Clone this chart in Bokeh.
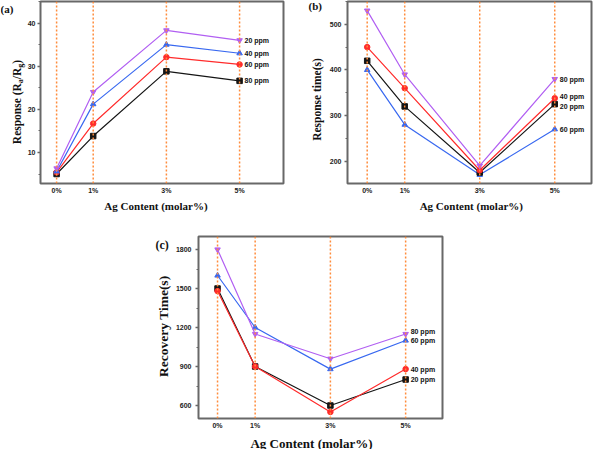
import math
from bokeh.plotting import figure
from bokeh.models import Range1d, FixedTicker, Label, Span, Spacer, GridBox
from bokeh.layouts import row, column
from bokeh.embed import file_html
from bokeh.resources import INLINE

# ---------------- data ----------------
ag = [0, 1, 3, 5]
ag_labels = ["0%", "1%", "3%", "5%"]

# (a) Response (Ra/Rg)
a_names = ["20 ppm", "40 ppm", "60 ppm", "80 ppm"]
a_20 = [6.3, 24.0, 38.3, 36.0]
a_40 = [5.6, 21.2, 35.0, 33.0]
a_60 = [5.4, 16.7, 32.1, 30.4]
a_80 = [5.0, 13.8, 28.8, 26.6]
a_ticks = [10, 20, 30, 40]

# (b) Response time (s)
b_names = ["80 ppm", "40 ppm", "20 ppm", "60 ppm"]
b_80 = [530, 390, 190, 380]
b_40 = [450, 360, 180, 338]
b_20 = [420, 320, 175, 325]
b_60 = [400, 280, 170, 270]
b_ticks = [200, 300, 400, 500]

# (c) Recovery time (s)
c_names = ["80 ppm", "60 ppm", "40 ppm", "20 ppm"]
c_80 = [1800, 1150, 960, 1150]
c_60 = [1600, 1200, 880, 1100]
c_40 = [1480, 900, 550, 880]
c_20 = [1500, 900, 600, 800]
c_ticks = [600, 900, 1200, 1500, 1800]

xtitle = "Ag Content (molar%)"
ytitle_b = "Response time(s)"
ytitle_c = "Recovery Time(s)"

# ---------------- style ----------------
GRAY = "#686868"
ORANGE = "#ff8c3c"
PURPLE = "#b15ff2"
BLUE = "#3868f0"
RED = "#ff2b2b"
BLACK = "#151515"
SERIF = "Liberation Serif"
SANS = "Liberation Sans"
W, H = 593, 449


def panel(width, height, bl, br, bt, bb, xr, yr, yticks, ystand):
    p = figure(width=width, height=height, x_range=Range1d(*xr), y_range=Range1d(*yr),
               output_backend="svg", toolbar_location=None,
               min_border_left=bl, min_border_right=br, min_border_top=bt, min_border_bottom=bb)
    p.grid.visible = False
    p.outline_line_color = GRAY
    p.outline_line_width = 2
    p.border_fill_color = "white"
    p.background_fill_color = "white"
    xa = p.xaxis[0]
    xa.ticker = FixedTicker(ticks=ag)
    xa.major_label_overrides = {v: s for v, s in zip(ag, ag_labels)}
    xa.axis_line_color = None
    xa.major_tick_line_color = None
    xa.minor_tick_line_color = None
    xa.major_tick_out = 0
    xa.major_tick_in = 0
    xa.minor_tick_out = 0
    xa.minor_tick_in = 0
    xa.major_label_standoff = 3
    ya = p.yaxis[0]
    step = yticks[1] - yticks[0]
    minors = [t - step / 2 for t in yticks] + [yticks[-1] + step / 2]
    ya.ticker = FixedTicker(ticks=yticks, minor_ticks=minors)
    ya.axis_line_color = None
    ya.major_tick_line_color = GRAY
    ya.major_tick_line_width = 1.5
    ya.major_tick_out = 3
    ya.major_tick_in = 0
    ya.minor_tick_line_color = GRAY
    ya.minor_tick_out = 2
    ya.minor_tick_in = 0
    ya.major_label_standoff = ystand
    for ax in (xa, ya):
        ax.major_label_text_font = SANS
        ax.major_label_text_font_style = "bold"
        ax.major_label_text_font_size = "7px"
        ax.major_label_text_color = "#222222"
    for v in ag:
        p.add_layout(Span(location=v, dimension="height", line_color=ORANGE,
                          line_dash="2 2", line_width=1.5))
    return p


def series(p, vals, color, marker, name, dy=0):
    p.line(ag, vals, line_color=color, line_width=1.2)
    p.scatter(ag, vals, marker=marker, size=5.5, fill_color=color, line_color=color)
    p.add_layout(Label(x=ag[-1], y=vals[-1], x_offset=5, y_offset=dy, text=name,
                       text_font=SANS, text_font_style="bold", text_font_size="7px",
                       text_baseline="middle", text_color="#111111"))


# ---------------- panel (a) ----------------
fa = panel(287, 221, 40, 4, 1, 38, (-0.44, 6.2), (2.8, 45.0), a_ticks, 2)
series(fa, a_80, BLACK, "square", a_names[3])
series(fa, a_60, RED, "circle", a_names[2])
series(fa, a_40, BLUE, "triangle", a_names[1])
series(fa, a_20, PURPLE, "inverted_triangle", a_names[0])

# ---------------- panel (b) ----------------
fb = panel(306, 221, 60, 2, 1, 38, (-0.525, 5.98), (151, 550), b_ticks, 3)
series(fb, b_60, BLUE, "triangle", b_names[3])
series(fb, b_20, BLACK, "square", b_names[2], dy=-2)
series(fb, b_40, RED, "circle", b_names[1], dy=2)
series(fb, b_80, PURPLE, "inverted_triangle", b_names[0])

# ---------------- panel (c) ----------------
fc = panel(312, 228, 58, 10, 15, 31, (-0.506, 5.98), (500, 1900), c_ticks, 4)
series(fc, c_20, BLACK, "square", c_names[3])
series(fc, c_40, RED, "circle", c_names[2])
series(fc, c_60, BLUE, "triangle", c_names[1])
series(fc, c_80, PURPLE, "inverted_triangle", c_names[0], dy=3)

panels = column(row(fa, fb), row(Spacer(width=140, height=228), fc))

# ---------------- transparent text layer (titles outside the frames) ----------------
t = figure(width=W, height=H, x_range=Range1d(0, W), y_range=Range1d(H, 0),
           output_backend="svg", toolbar_location=None, min_border=0,
           x_axis_type=None, y_axis_type=None)
t.grid.visible = False
t.outline_line_color = None
t.border_fill_color = None
t.background_fill_color = None


def txt(s, x, y, size, angle=0.0, align="center", baseline="middle"):
    t.add_layout(Label(x=x, y=y, text=s, angle=angle, text_font=SERIF,
                       text_font_style="bold", text_font_size=f"{size}px",
                       text_align=align, text_baseline=baseline, text_color="#111111"))


# panel tags
txt("(a)", 0, 8, 11, align="left")
txt("(b)", 308, 5.5, 11, align="left")
txt("(c)", 155, 244.3, 12, align="left")
# x titles
txt(xtitle, 155.5, 205.5, 11)
txt(xtitle, 470.8, 205.5, 11)
txt(xtitle, 311, 442.5, 13)
# y titles
txt(ytitle_b, 316.7, 99, 11.5, angle=math.pi / 2)
txt(ytitle_c, 163, 325.8, 13.5, angle=math.pi / 2)
# composed y title with subscripts for (a): Response (Ra/Rg)
F = 11.5
FS = 8.0
total = 5.305 * F + 0.5 * FS * 2 + 1.0 * F + 0.333 * F
bx = 13 + 0.33 * F           # baseline x (glyph tops point left)
yy = 101.5 + total / 2       # start at the bottom, text runs upward
pieces = [("Response (R", F, 0.0, 5.305 * F), ("a", FS, 2.8, 0.5 * FS),
          ("/R", F, 0.0, 1.0 * F), ("g", FS, 2.8, 0.5 * FS), (")", F, 0.0, 0.333 * F)]
for s, fs, dx, ln in pieces:
    txt(s, bx + dx, yy, fs, angle=math.pi / 2, align="left", baseline="alphabetic")
    yy -= ln

layout = GridBox(children=[(panels, 0, 0), (t, 0, 0)])
open("out.html", "w").write(file_html(layout, INLINE))
